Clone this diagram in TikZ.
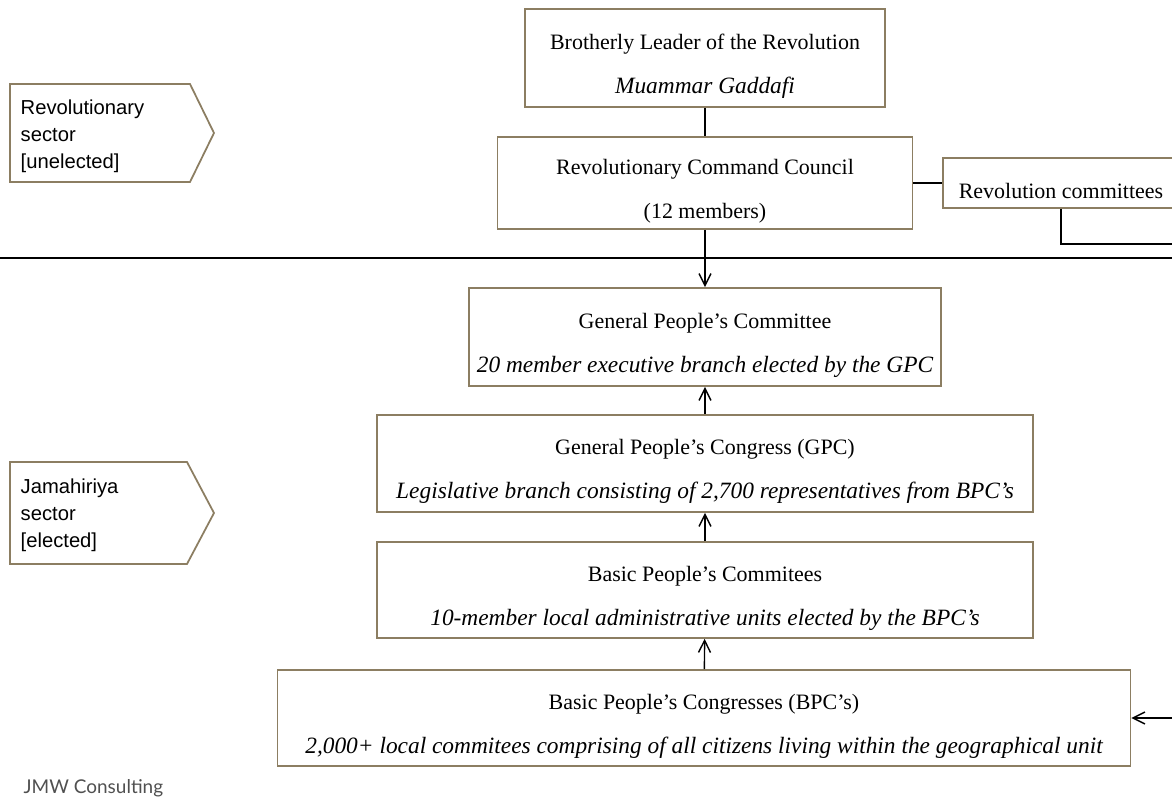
\documentclass[tikz,border=0pt]{standalone}
\usepackage{fontspec}
\setmainfont{Liberation Serif}
\newfontfamily\sectorfont{Liberation Sans}
\newfontfamily\brandfont{Lato}
\usepackage{tikz}
\usetikzlibrary{positioning, calc, arrows.meta}
\definecolor{boxframe}{RGB}{140,126,98}
\definecolor{brandgray}{RGB}{80,80,80}
\newcommand{\orgtitle}[1]{\rule{0pt}{18pt}#1}
\newcommand{\orgnote}[1]{{\fontsize{13.3}{25}\selectfont\itshape #1}}

\begin{document}
\begin{tikzpicture}[
    line width=0.8pt,
    org/.style={draw=boxframe, line width=1pt, rectangle, fill=white, align=center, inner sep=2pt, font=\fontsize{12.5}{25}\selectfont},
    sector/.style={draw=boxframe, line width=1pt, fill=white},
    sectortext/.style={align=left, anchor=west, inner sep=0pt, font=\sectorfont\fontsize{11.5}{15.5}\selectfont},
    arrow/.style={-{Straight Barb[length=2.4mm,width=2.4mm]}, line width=0.8pt}
]
    \useasboundingbox (0,0) rectangle (23.44,-15.94);

    % --- Sectors (Left) ---
    \draw[sector] (0.2,-1.68) -- (3.8,-1.68) -- (4.28,-2.66) -- (3.8,-3.64) -- (0.2,-3.64) -- cycle;
    \node[sectortext] (rsector) at (0.4,-2.73) {Revolutionary \\ sector \\ {[unelected]}};

    \draw[sector] (0.2,-9.24) -- (3.74,-9.24) -- (4.28,-10.26) -- (3.74,-11.28) -- (0.2,-11.28) -- cycle;
    \node[sectortext] (jsector) at (0.4,-10.31) {Jamahiriya \\ sector \\ {[elected]}};

    % --- Revolutionary sector ---
    \node[org, minimum width=7.2cm, minimum height=1.96cm] (leader) at (14.1,-1.16) {\orgtitle{Brotherly Leader of the Revolution} \\ \orgnote{Muammar Gaddafi}};
    \node[org, minimum width=8.3cm, minimum height=1.84cm] (rcc) at (14.1,-3.66) {\orgtitle{Revolutionary Command Council} \\ (12 members)};
    \node[org, minimum width=4.72cm, minimum height=1.0cm] (revcom) at (21.22,-3.66) {\orgtitle{Revolution committees}};

    \draw (leader) -- (rcc);
    \draw (rcc) -- (revcom);
    \coordinate (rcout) at (23.44,-4.88);
    \draw (revcom.south) |- (rcout);

    % --- Separator ---
    \coordinate (sepL) at (0,-5.16);
    \coordinate (sepR) at (23.44,-5.16);
    \draw (sepL) -- (sepR);

    % --- Jamahiriya sector ---
    \node[org, minimum width=9.44cm, minimum height=1.96cm] (gpcom) at (14.1,-6.74) {\orgtitle{General People’s Committee} \\ \orgnote{20 member executive branch elected by the GPC}};
    \node[org, minimum width=13.12cm, minimum height=1.94cm] (gpc) at (14.1,-9.27) {\orgtitle{General People’s Congress (GPC)} \\ \orgnote{Legislative branch consisting of 2,700 representatives from BPC’s}};
    \node[org, minimum width=13.12cm, minimum height=1.92cm] (bpcom) at (14.1,-11.8) {\orgtitle{Basic People’s Commitees} \\ \orgnote{10-member local administrative units elected by the BPC’s}};
    \node[org, minimum width=17.06cm, minimum height=1.92cm] (bpcong) at (14.08,-14.36) {\orgtitle{Basic People’s Congresses (BPC’s)} \\ \orgnote{2,000+ local commitees comprising of all citizens living within the geographical unit}};

    \draw[arrow] (rcc) -- (gpcom);
    \draw[arrow] (gpc) -- (gpcom);
    \draw[arrow] (bpcom) -- (gpc);
    \draw[arrow] (bpcong) -- (bpcom);
    \coordinate (rcin) at (23.44,-14.36);
    \draw[arrow] (rcin) -- (bpcong.east);

    % --- Footer ---
    \node[font=\brandfont\fontsize{10.8}{13}\selectfont, text=brandgray, anchor=west, inner sep=0pt] (brand) at (0.46,-15.76) {JMW Consulting};
\end{tikzpicture}
\end{document}
